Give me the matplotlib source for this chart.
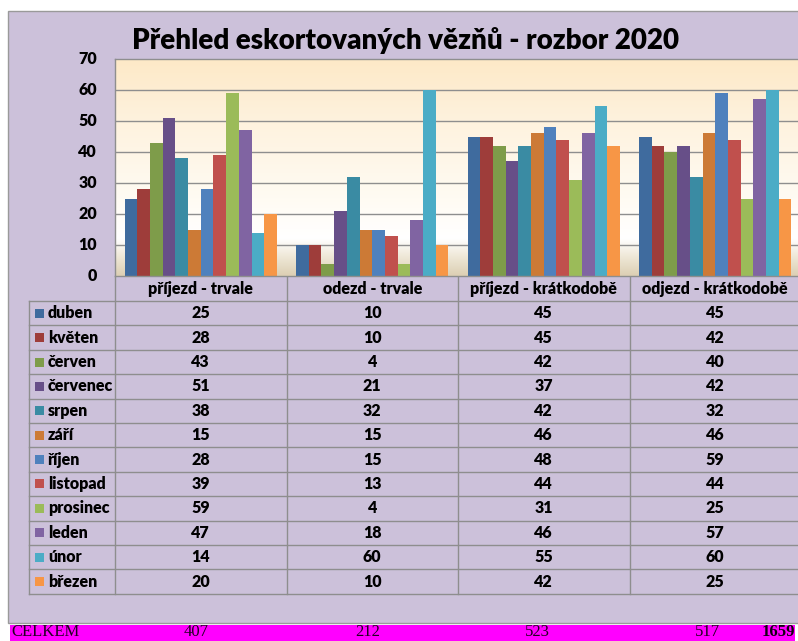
import numpy as np
import matplotlib
matplotlib.use("Agg")
import matplotlib.pyplot as plt
from matplotlib.patches import Rectangle
from matplotlib.colors import to_rgb

plt.rcParams['font.family'] = ['Lato', 'DejaVu Sans']

# data
mesice = ['duben', 'květen', 'červen', 'červenec', 'srpen', 'září',
          'říjen', 'listopad', 'prosinec', 'leden', 'únor', 'březen']
kategorie = ['příjezd - trvale', 'odezd - trvale', 'příjezd - krátkodobě', 'odjezd - krátkodobě']
prijezd_trvale = [25, 28, 43, 51, 38, 15, 28, 39, 59, 47, 14, 20]
odezd_trvale = [10, 10, 4, 21, 32, 15, 15, 13, 4, 18, 60, 10]
prijezd_kratkodobe = [45, 45, 42, 37, 42, 46, 48, 44, 31, 46, 55, 42]
odjezd_kratkodobe = [45, 42, 40, 42, 32, 46, 59, 44, 25, 57, 60, 25]
celkem = [407, 212, 523, 517]
celkem_vse = 1659

barvy = ['#3F6B9E', '#9E3D3A', '#7E9C4A', '#674F88', '#3A8BA3', '#CC7A36',
         '#4F81BD', '#C0504D', '#9BBB59', '#8064A2', '#4BACC6', '#F79646']

W, H = 798, 641
fig = plt.figure(figsize=(W / 100, H / 100), dpi=100, facecolor='white')

# podklad v pixelech
bg = fig.add_axes([0, 0, 1, 1], zorder=0)
bg.set_xlim(0, W)
bg.set_ylim(H, 0)
bg.axis('off')
bg.add_patch(Rectangle((8, 11), 800, 612, facecolor='#CCC1DA', edgecolor='#9A9A9A', lw=1))

FS = 11.5
# titulek
bg.text(405, 41, 'Přehled eskortovaných vězňů - rozbor 2020', fontsize=20,
        fontweight='heavy', ha='center', va='center', color='black')

# graf
x0, x1, ytop, ybot = 115, 801, 59, 276
ax = fig.add_axes([x0 / W, 1 - ybot / H, (x1 - x0) / W, (ybot - ytop) / H], zorder=1)
ax.set_xlim(0, 4)
ax.set_ylim(0, 70)

# gradient pozadi
stops = [(0, '#DCCFB3'), (6, '#EEE7D6'), (12, '#FFFFFF'), (25, '#FFFBF3'),
         (50, '#FEF2DE'), (70, '#FDE9C7')]
yy = np.linspace(0, 70, 300)
grad = np.zeros((300, 1, 3))
for c in range(3):
    grad[:, 0, c] = np.interp(yy, [s[0] for s in stops], [to_rgb(s[1])[c] for s in stops])
ax.imshow(grad, extent=[0, 4, 0, 70], origin='lower', aspect='auto', zorder=0)

for v in range(10, 70, 10):
    ax.axhline(v, color='#8E8E8E', lw=1, zorder=1)

serie = [prijezd_trvale, odezd_trvale, prijezd_kratkodobe, odjezd_kratkodobe]
bw = 1 / 13.5
for j, m in enumerate(mesice):
    xs = [i + (0.75 + j + 0.5) * bw for i in range(4)]
    hs = [s[j] for s in serie]
    ax.bar(xs, hs, width=bw, color=barvy[j], edgecolor='none', zorder=2)

ax.set_xticks([])
ax.set_yticks([])
for s in ax.spines.values():
    s.set_color('#8E8E8E')
    s.set_linewidth(1)

# popisky osy y
for v in range(0, 80, 10):
    py = ybot - (ybot - ytop) * v / 70
    bg.text(97, py, str(v), fontsize=FS, fontweight='heavy', ha='right', va='center')

# tabulka
lc = '#8E8E8E'
cols = [115, 286.5, 458, 629.5, 801]
row_h = 24.4
r0 = 301
rows = [r0 + k * row_h for k in range(13)]
# hlavicka
for k, name in enumerate(kategorie):
    bg.text((cols[k] + cols[k + 1]) / 2, 289, name, fontsize=FS, fontweight='heavy',
            ha='center', va='center')
for c in cols:
    bg.plot([c, c], [276, rows[-1]], color=lc, lw=1)
bg.plot([29, 29], [r0, rows[-1]], color=lc, lw=1)
for r in rows:
    bg.plot([29, 801], [r, r], color=lc, lw=1)

for j, m in enumerate(mesice):
    yc = rows[j] + row_h / 2
    bg.add_patch(Rectangle((35, yc - 4.5), 9, 9, facecolor=barvy[j], edgecolor='none'))
    bg.text(48, yc, m, fontsize=FS, fontweight='heavy', ha='left', va='center')
    for k in range(4):
        bg.text((cols[k] + cols[k + 1]) / 2, yc, str(serie[k][j]), fontsize=FS,
                fontweight='heavy', ha='center', va='center')

# radek CELKEM
bg.add_patch(Rectangle((10, 625), 785, 20, facecolor='#FF00FF', edgecolor='none'))
serif = ['Liberation Serif', 'DejaVu Serif']
bg.text(11, 640.5, 'CELKEM', family=serif, fontsize=12, color='#220022', ha='left', va='bottom')
for k, cx in enumerate([196, 368, 537, 707]):
    bg.text(cx, 640.5, str(celkem[k]), family=serif, fontsize=12, color='#220022',
            ha='center', va='bottom')
bg.text(795, 640.5, str(celkem_vse), family=serif, fontsize=12, fontweight='bold',
        color='#110011', ha='right', va='bottom')

fig.savefig('out.png', dpi=100, facecolor='white')
